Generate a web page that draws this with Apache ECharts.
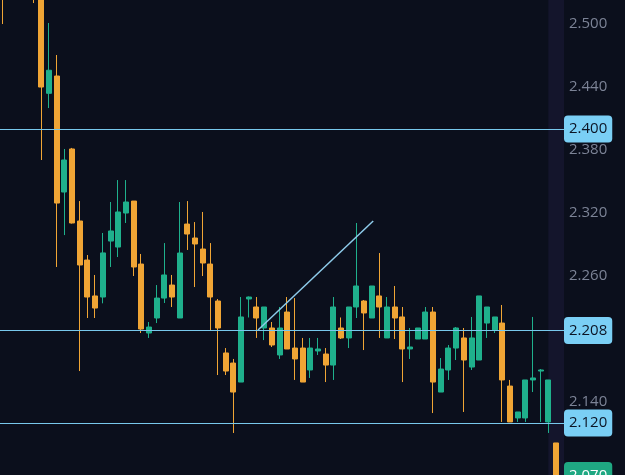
<!DOCTYPE html>
<html>
<head>
<meta charset="utf-8">
<script src="https://cdn.jsdelivr.net/npm/echarts@6/dist/echarts.min.js"></script>
<style>
html,body{margin:0;padding:0;background:#0b0f1c;overflow:hidden;}
#c{width:625px;height:486px;}
</style>
</head>
<body>
<div id="c"></div>
<script>
// ---- data ----
const opens  = [2.56,2.57,2.59,2.56,2.58,2.55,2.434,2.4505,2.34,2.381,2.3124,2.2752,2.241,2.24,2.2933,2.2876,2.32,2.3314,2.2714,2.2057,2.22,2.239,2.2514,2.22,2.3095,2.2962,2.2857,2.2714,2.2362,2.1867,2.1771,2.159,2.2381,2.2305,2.2105,2.2105,2.1848,2.2257,2.1914,2.1914,2.1705,2.1886,2.1857,2.1752,2.2105,2.201,2.2305,2.2362,2.22,2.241,2.201,2.2305,2.221,2.1905,2.2,2.2,2.2257,2.1495,2.1705,2.1914,2.201,2.1733,2.18,2.2152,2.2086,2.2152,2.1552,2.1248,2.1248,2.161,2.1695,2.121,2.101];
const closes = [2.53,2.59,2.56,2.58,2.55,2.44,2.456,2.3295,2.3705,2.3105,2.2705,2.24,2.2295,2.282,2.3029,2.321,2.3305,2.2686,2.2095,2.2114,2.239,2.261,2.24,2.2819,2.3,2.2905,2.2724,2.24,2.2105,2.1695,2.1495,2.221,2.24,2.22,2.2305,2.1943,2.2105,2.1905,2.181,2.159,2.1914,2.1905,2.1752,2.2305,2.201,2.2305,2.2505,2.2248,2.2505,2.2305,2.2305,2.22,2.1905,2.1924,2.2105,2.2257,2.159,2.1714,2.1914,2.2105,2.18,2.201,2.241,2.2305,2.221,2.161,2.121,2.1305,2.161,2.1629,2.1705,2.161,2.07];
const lows   = [2.50,2.55,2.54,2.545,2.52,2.3705,2.42,2.2686,2.299,2.31,2.1695,2.22,2.22,2.234,2.2686,2.2781,2.3105,2.26,2.2057,2.201,2.2152,2.2343,2.2305,2.22,2.2848,2.2495,2.26,2.2086,2.1657,2.1657,2.1105,2.159,2.2205,2.201,2.199,2.1924,2.181,2.1905,2.161,2.159,2.1629,2.1848,2.159,2.161,2.2,2.1914,2.22,2.1895,2.22,2.201,2.201,2.2,2.159,2.181,2.2,2.2,2.1295,2.1495,2.161,2.18,2.1305,2.1705,2.18,2.201,2.2057,2.121,2.121,2.121,2.121,2.1495,2.121,2.1105,2.065];
const highs  = [2.58,2.60,2.61,2.59,2.59,2.56,2.501,2.4705,2.381,2.382,2.3314,2.28,2.261,2.301,2.3305,2.3514,2.3514,2.3314,2.281,2.2162,2.2514,2.2914,2.261,2.3305,2.3314,2.3114,2.321,2.2914,2.2381,2.1914,2.181,2.24,2.2405,2.24,2.2305,2.2162,2.2305,2.24,2.239,2.201,2.201,2.201,2.1914,2.24,2.2205,2.2305,2.3105,2.2371,2.2505,2.2819,2.24,2.2505,2.2305,2.2105,2.2105,2.2305,2.2305,2.1819,2.1943,2.2114,2.2105,2.221,2.241,2.2305,2.221,2.2324,2.161,2.1305,2.161,2.221,2.1714,2.161,2.101];
const levelLines = [2.400, 2.208, 2.120];
const yTicks = [2.140, 2.200, 2.260, 2.320, 2.380, 2.440, 2.500];
const trendX = [33.2, 48.2];
const trendY = [2.2086, 2.3124];

const candles = opens.map((o, i) => [i, o, closes[i], lows[i], highs[i]]);
const lastIdx = opens.length - 1;
const lastClose = closes[lastIdx];
const X_MIN = -0.39, X_MAX = 73.04;
const Y_MIN = 2.060, Y_MAX = 2.5229;

const chart = echarts.init(document.getElementById('c'), null, {renderer: 'canvas'});
const boxLabel = (bg, fg) => ({
  show: true, position: 'end', distance: 0,
  formatter: p => Number(p.value).toFixed(3),
  backgroundColor: bg, color: fg, borderRadius: 4, opacity: 1,
  padding: [5, 5, 5, 5], lineHeight: 17, fontSize: 15, fontFamily: 'Open Sans'
});
chart.setOption({
  animation: false,
  backgroundColor: '#0b0f1c',
  grid: {left: 0, right: 61, top: 0, bottom: 0, containLabel: false, outerBoundsMode: 'none'},
  xAxis: {type: 'value', min: X_MIN, max: X_MAX, show: false},
  yAxis: {
    type: 'value', position: 'right', min: Y_MIN, max: Y_MAX, scale: true,
    axisLine: {show: false}, axisTick: {show: false}, splitLine: {show: false},
    axisLabel: {
      customValues: yTicks, margin: 5, color: '#7c8396', fontSize: 15,
      fontFamily: 'Open Sans', formatter: v => Number(v).toFixed(3)
    }
  },
  series: [
    {
      type: 'candlestick',
      data: candles,
      encode: {x: 0, y: [1, 2, 3, 4]},
      barWidth: 5.5,
      clip: false,
      itemStyle: {
        color: '#1fb08c', color0: '#f0a535',
        borderColor: '#1fb08c', borderColor0: '#f0a535', borderWidth: 1
      },
      markArea: {
        silent: true,
        itemStyle: {color: '#14152c'},
        data: [[{xAxis: lastIdx - 1.0}, {xAxis: X_MAX}]]
      },
      markLine: {
        silent: true, symbol: 'none', precision: 3,
        lineStyle: {color: '#78c8ec', width: 1.2, type: 'solid'},
        data: levelLines.map(v => ({yAxis: v, label: boxLabel('#7acff5', '#0b1424')}))
          .concat([{yAxis: lastClose, lineStyle: {color: 'rgba(0,0,0,0)', width: 0},
                    label: boxLabel('#1fa882', '#ffffff')}])
      },
      z: 3
    },
    {
      type: 'line',
      data: trendX.map((x, i) => [x, trendY[i]]),
      symbol: 'none', silent: true,
      lineStyle: {color: '#8ecbea', width: 1.5},
      z: 4
    }
  ]
});
</script>
</body>
</html>
